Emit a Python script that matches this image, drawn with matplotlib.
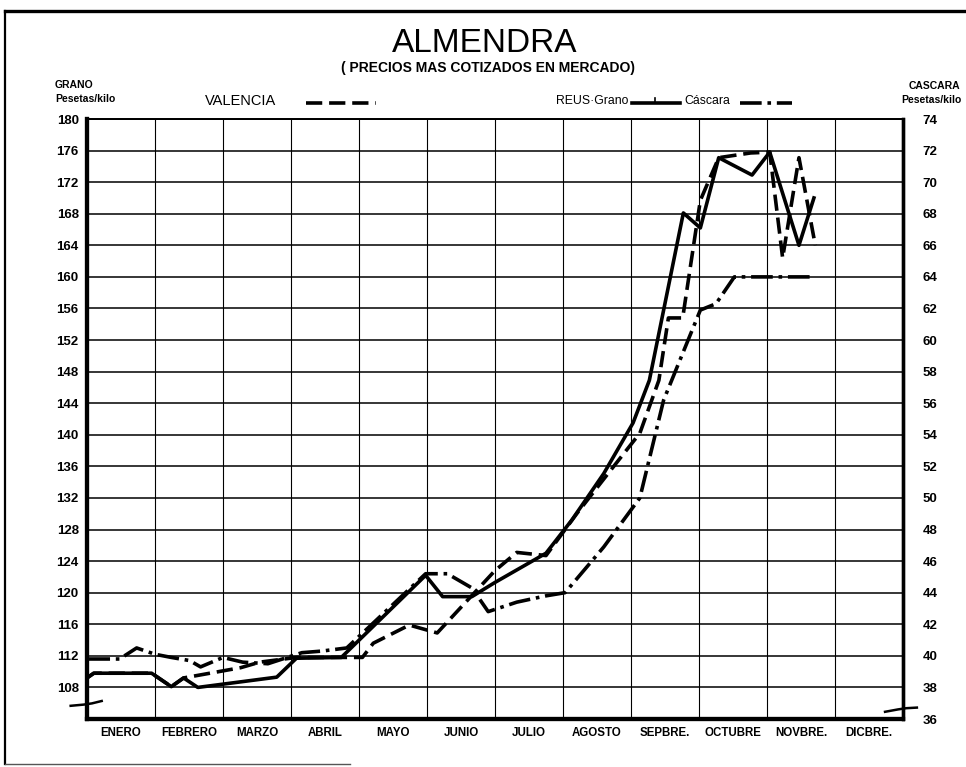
"""
Almendra: precios mas cotizados en mercado (Valencia / Reus)
Generates: out.png
"""
import matplotlib
matplotlib.use("Agg")
import matplotlib.pyplot as plt
from matplotlib.lines import Line2D

# months (x in month units, 0 = 1 Enero)
MONTHS = ["ENERO", "FEBRERO", "MARZO", "ABRIL", "MAYO", "JUNIO",
          "JULIO", "AGOSTO", "SEPBRE.", "OCTUBRE", "NOVBRE.", "DICBRE."]

# Valencia, grano (pesetas/kilo, left axis)
valencia_x = [0.0, 0.10, 0.95, 1.24, 1.42, 2.26, 2.54, 3.08, 4.05, 4.21, 4.74, 5.15,
              6.0, 6.32, 6.75, 7.21, 7.70, 8.13, 8.41, 8.55, 8.76, 9.02, 9.29, 9.76,
              10.04, 10.23, 10.47, 10.71]
valencia_y = [109.2, 109.8, 109.8, 108.1, 109.2, 110.5, 111.2, 111.8, 111.8, 113.6, 115.9, 114.9,
              122.8, 125.1, 124.7, 130.1, 135.5, 140.2, 146.9, 154.8, 154.8, 169.7, 175.1, 175.7,
              175.8, 162.4, 175.1, 164.0]

# Reus, grano (pesetas/kilo, left axis)
reus_grano_x = [0.0, 0.10, 0.95, 1.24, 1.42, 1.63, 2.79, 3.08, 3.74, 4.98, 5.23, 5.66,
                6.0, 6.75, 7.13, 7.60, 8.03, 8.27, 8.77, 9.02, 9.29, 9.78, 10.04, 10.47, 10.69]
reus_grano_y = [109.2, 109.8, 109.8, 108.1, 109.2, 108.0, 109.3, 111.7, 111.8, 122.2, 119.5, 119.5,
                121.3, 125.0, 129.2, 135.1, 141.5, 146.9, 168.1, 166.2, 175.1, 172.9, 175.8, 164.0, 170.0]

# Reus, cascara (pesetas/kilo, right axis)
reus_cascara_x = [0.02, 0.48, 0.73, 1.0, 1.24, 1.51, 1.67, 2.0, 2.29, 2.66, 3.16, 3.45, 3.82,
                  4.98, 5.30, 5.66, 5.90, 6.32, 6.75, 7.03, 7.60, 8.13, 8.48, 9.02, 9.25, 9.52, 10.69]
reus_cascara_y = [39.8, 39.8, 40.5, 40.1, 39.9, 39.7, 39.3, 39.9, 39.6, 39.5, 40.2, 40.3, 40.5,
                  45.2, 45.2, 44.3, 42.8, 43.4, 43.8, 44.0, 46.9, 50.0, 56.2, 61.9, 62.3, 64.0, 64.0]

grano_ticks = list(range(108, 181, 4))
cascara_ticks = list(range(36, 75, 2))

W, H = 966, 767
LW = 2.6
DASH = (0, (4.5, 1.9))
DASHDOT = (0, (6.0, 1.6, 1.0, 1.6))

plt.rcParams["font.family"] = ["Liberation Sans", "DejaVu Sans"]

fig = plt.figure(figsize=(W / 100, H / 100), dpi=100)
fig.patch.set_facecolor("white")
ax = fig.add_axes([87 / W, 1 - 719 / H, (903 - 87) / W, 600 / H])
ax2 = ax.twinx()

ax.set_xlim(0, 12)
ax.set_ylim(104, 180)
ax2.set_ylim(36, 74)

# grid
ax.set_yticks(grano_ticks)
ax.set_yticklabels([str(t) for t in grano_ticks], fontsize=9.5, fontweight="bold")
ax.set_xticks(range(0, 13))
ax.set_xticklabels([])
ax.set_xticks([i + 0.5 for i in range(12)], minor=True)
ax.set_xticklabels(MONTHS, minor=True, fontsize=8.3, fontweight="bold")
ax.tick_params(axis="x", which="both", length=0, pad=6)
ax.tick_params(axis="y", length=0, pad=6)
ax.grid(axis="y", color="black", linewidth=1.1, zorder=0)
ax.grid(axis="x", which="major", color="black", linewidth=0.8, zorder=0)

ax2.set_yticks(cascara_ticks)
ax2.set_yticklabels([str(t) for t in cascara_ticks], fontsize=9.5, fontweight="bold")
ax2.tick_params(axis="y", length=0, pad=14)

for a in (ax, ax2):
    a.spines["left"].set_linewidth(3.0)
    a.spines["bottom"].set_linewidth(3.0)
    a.spines["right"].set_linewidth(2.4)
    a.spines["top"].set_linewidth(1.3)

# series
ax.plot(valencia_x, valencia_y, color="black", lw=LW, linestyle=DASH, zorder=3)
ax.plot(reus_grano_x, reus_grano_y, color="black", lw=LW, linestyle="-", zorder=3)
ax2.plot(reus_cascara_x, reus_cascara_y, color="black", lw=LW, linestyle=DASHDOT, zorder=3)

# broken-axis marks
ax.plot([-0.020, -0.004, 0.006, 0.018], [0.022, 0.024, 0.026, 0.030], transform=ax.transAxes,
        color="black", lw=1.8, clip_on=False)
ax.plot([0.978, 0.994, 1.004, 1.017], [0.012, 0.016, 0.018, 0.019], transform=ax.transAxes,
        color="black", lw=1.8, clip_on=False)

# titles and axis captions
fig.text(485 / W, 1 - 43 / H, "ALMENDRA", ha="center", va="center", fontsize=24)
fig.text(488 / W, 1 - 68 / H, "( PRECIOS MAS COTIZADOS EN MERCADO)", ha="center",
         va="center", fontsize=10, fontweight="bold")
fig.text(55 / W, 1 - 85 / H, "GRANO", ha="left", va="center", fontsize=7.5, fontweight="bold")
fig.text(55 / W, 1 - 99 / H, "Pesetas/kilo", ha="left", va="center", fontsize=7.5, fontweight="bold")
fig.text(960 / W, 1 - 86 / H, "CASCARA", ha="right", va="center", fontsize=7.5, fontweight="bold")
fig.text(962 / W, 1 - 100 / H, "Pesetas/kilo", ha="right", va="center", fontsize=7.5, fontweight="bold")

# legend
fig.text(205 / W, 1 - 101 / H, "VALENCIA", ha="left", va="center", fontsize=10.5)
fig.add_artist(Line2D([306 / W, 376 / W], [1 - 103 / H] * 2, color="black", lw=LW, linestyle=DASH))
fig.text(556 / W, 1 - 101 / H, "REUS·Grano", ha="left", va="center", fontsize=8.8)
fig.add_artist(Line2D([632 / W, 680 / W], [1 - 103 / H] * 2, color="black", lw=LW))
fig.add_artist(Line2D([655 / W, 655 / W], [1 - 103 / H, 1 - 98 / H], color="black", lw=1.2))
fig.text(684 / W, 1 - 101 / H, "Cáscara", ha="left", va="center", fontsize=8.8)
fig.add_artist(Line2D([740 / W, 792 / W], [1 - 103 / H] * 2, color="black", lw=LW, linestyle=DASHDOT))

# outer frame of the sheet
fig.add_artist(Line2D([5 / W, 1.0], [1 - 11 / H] * 2, color="black", lw=2.4))
fig.add_artist(Line2D([5 / W, 5 / W], [1 - 11 / H, 1 - 764 / H], color="black", lw=1.6))
fig.add_artist(Line2D([5 / W, 350 / W], [1 - 764 / H] * 2, color="#555555", lw=1.0))

fig.savefig("out.png", dpi=100, facecolor="white")
plt.close(fig)
